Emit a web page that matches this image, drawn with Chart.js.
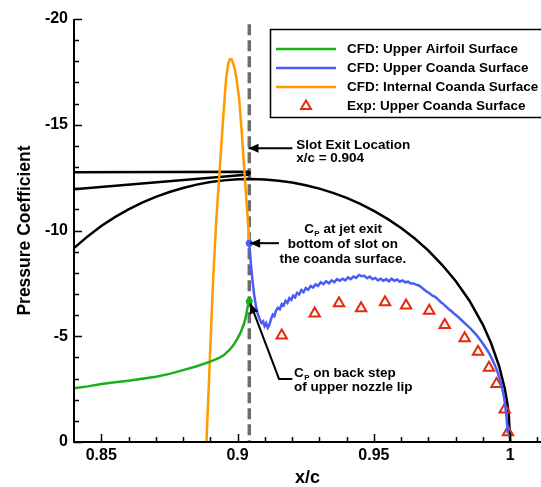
<!DOCTYPE html>
<html>
<head>
<meta charset="utf-8">
<script src="https://cdn.jsdelivr.net/npm/chart.js@4.4.1/dist/chart.umd.min.js"></script>
<style>
  html, body { margin: 0; padding: 0; background: #fff; }
</style>
</head>
<body>
<canvas id="myChart" width="541" height="487"></canvas>
<script>
// tick labels
var xTicks = [0.85, 0.9, 0.95, 1];
var yTicks = [-20, -15, -10, -5, 0];

var seriesLabels = ['CFD: Upper Airfoil Surface', 'CFD: Upper Coanda Surface', 'CFD: Internal Coanda Surface', 'Exp: Upper Coanda Surface'];

// CFD upper airfoil surface (green)
var airfoilX  = [0.840, 0.845, 0.850, 0.855, 0.860, 0.865, 0.870, 0.875, 0.880, 0.885, 0.890, 0.893, 0.895, 0.897, 0.8985, 0.900, 0.9012, 0.9024, 0.9031, 0.9037, 0.9043];
var airfoilCp = [-2.54, -2.63, -2.74, -2.82, -2.90, -2.99, -3.09, -3.22, -3.40, -3.58, -3.80, -3.96, -4.11, -4.35, -4.58, -4.90, -5.20, -5.60, -5.95, -6.40, -6.65];

// CFD upper coanda surface (blue)
var coandaX = [0.9043, 0.9049, 0.9055, 0.9061, 0.9067, 0.9074, 0.9081, 0.9088, 0.9094, 0.9099,
  0.9105, 0.9111, 0.9117, 0.9123, 0.9129, 0.9135, 0.9141, 0.9148, 0.9155, 0.9162,
  0.9169, 0.9176, 0.9183, 0.9190, 0.9197, 0.9204, 0.9211, 0.9218, 0.9226, 0.9234,
  0.9242, 0.9250, 0.9259, 0.9268, 0.9277, 0.9286, 0.9295, 0.9305, 0.9315, 0.9325,
  0.9335, 0.9345, 0.9355, 0.9365, 0.9375, 0.9385, 0.9395, 0.9405, 0.9415, 0.9425,
  0.9435, 0.9445, 0.9455, 0.9465, 0.9475, 0.9485, 0.9495, 0.9505, 0.9515, 0.9525,
  0.9535, 0.9545, 0.9555, 0.9565, 0.9575, 0.9585, 0.9595, 0.9605, 0.9615, 0.9625,
  0.9635, 0.9645, 0.9655, 0.9665, 0.9675, 0.9685, 0.9695, 0.9705, 0.9715, 0.9725,
  0.9735, 0.9745, 0.9755, 0.9765, 0.9775, 0.9785, 0.9795, 0.9805, 0.9815, 0.9825,
  0.9835, 0.9845, 0.9855, 0.9865, 0.9875, 0.9885, 0.9895, 0.9905, 0.9915, 0.9925,
  0.9935, 0.9945, 0.9955, 0.9963, 0.9970, 0.9977, 0.9982, 0.9986, 0.9989, 0.9991];
var coandaCp = [-9.40, -8.40, -7.60, -6.95, -6.45, -6.05, -5.80, -5.62, -5.70, -5.48,
  -5.62, -5.40, -5.55, -5.82, -6.02, -5.95, -6.22, -6.35, -6.28, -6.52,
  -6.45, -6.68, -6.58, -6.80, -6.72, -6.92, -6.84, -7.05, -6.98, -7.18,
  -7.08, -7.28, -7.20, -7.38, -7.30, -7.45, -7.38, -7.55, -7.46, -7.60,
  -7.50, -7.64, -7.56, -7.70, -7.62, -7.72, -7.64, -7.78, -7.70, -7.82,
  -7.76, -7.90, -7.84, -7.86, -7.74, -7.82, -7.70, -7.76, -7.64, -7.72,
  -7.62, -7.70, -7.60, -7.72, -7.62, -7.68, -7.58, -7.64, -7.55, -7.58,
  -7.50, -7.50, -7.44, -7.40, -7.30, -7.20, -7.10, -7.02, -6.92, -6.86,
  -6.74, -6.62, -6.52, -6.40, -6.28, -6.18, -6.06, -5.96, -5.84, -5.72,
  -5.60, -5.48, -5.36, -5.22, -5.08, -4.92, -4.74, -4.55, -4.36, -4.14,
  -3.88, -3.60, -3.26, -2.92, -2.55, -2.15, -1.70, -1.25, -0.80, -0.40];

// CFD internal coanda surface (orange)
var internalX  = [0.8886, 0.8898, 0.8910, 0.8922, 0.8934, 0.8946, 0.8958, 0.8966, 0.8972, 0.8978, 0.8984, 0.8990, 0.8996, 0.9006, 0.9015, 0.9024, 0.9033, 0.9040, 0.9043];
var internalCp = [0, -3.8, -7.6, -10.5, -12.8, -15.1, -17.2, -17.9, -18.1, -18.1, -17.9, -17.6, -17.2, -16.2, -14.7, -13.0, -11.3, -10.0, -9.4];

// experiment, upper coanda surface (red triangles)
var expX  = [0.9162, 0.9283, 0.9372, 0.9453, 0.9541, 0.9618, 0.9703, 0.9760, 0.9833, 0.9882, 0.9922, 0.9950, 0.9980, 0.9992];
var expCp = [-5.03, -6.08, -6.56, -6.32, -6.61, -6.45, -6.20, -5.53, -4.90, -4.27, -3.51, -2.74, -1.54, -0.46];

// airfoil / coanda outline (black)
var contourX = [0.840, 0.845, 0.850, 0.855, 0.860, 0.865, 0.870, 0.875, 0.880, 0.885, 0.890, 0.895, 0.900, 0.905,
  0.910, 0.915, 0.920, 0.925, 0.930, 0.935, 0.940, 0.945, 0.950, 0.955, 0.960, 0.965, 0.970, 0.975,
  0.980, 0.985, 0.990, 0.993, 0.996, 0.998, 0.999, 0.9995, 1.000];
var contourY = [-9.17, -9.72, -10.21, -10.63, -11.00, -11.32, -11.59, -11.82, -12.01, -12.17, -12.29, -12.37, -12.42, -12.43,
  -12.41, -12.35, -12.27, -12.14, -11.98, -11.78, -11.54, -11.26, -10.93, -10.55, -10.12, -9.62, -9.05, -8.38,
  -7.61, -6.69, -5.54, -4.67, -3.56, -2.53, -1.79, -1.27, 0];

// upper nozzle lip (black wedge)
var lipX = [0.840, 0.9041, 0.9045, 0.9041, 0.840];
var lipY = [-12.76, -12.78, -12.72, -12.65, -11.95];

// slot exit location (dashed)
var slotX = [0.9043, 0.9043];
var slotY = [-19.75, 0];

function pts(xs, ys) {
  return xs.map(function(x, i) { return { x: x, y: ys[i] }; });
}

var FONT = '"Liberation Sans", Arial, Helvetica, sans-serif';
var green = '#17b117', blue = '#4a5cf5', orange = '#ff9a00', red = '#e4290d';

// annotations (data units)
var notes = {
  slot: { from: [0.9201, -13.89], to: [0.9040, -13.89], textX: 0.9215, lines: [-13.85, -13.24] },
  jet: { from: [0.9152, -9.40], to: [0.9046, -9.40], textX: 0.9386, lines: [-9.88, -9.17, -8.46] },
  back: { path: [[0.9201, -2.98], [0.9152, -2.98], [0.9047, -6.55]], textX: 0.9207, lines: [-3.07, -2.41] }
};

function arrow(ctx, pts) {
  ctx.beginPath();
  ctx.moveTo(pts[0][0], pts[0][1]);
  for (var i = 1; i < pts.length; i++) ctx.lineTo(pts[i][0], pts[i][1]);
  ctx.stroke();
  var a = pts[pts.length - 2], b = pts[pts.length - 1];
  var ang = Math.atan2(b[1] - a[1], b[0] - a[0]);
  var len = 10, hw = 4.5;
  ctx.beginPath();
  ctx.moveTo(b[0], b[1]);
  ctx.lineTo(b[0] - len * Math.cos(ang) + hw * Math.sin(ang), b[1] - len * Math.sin(ang) - hw * Math.cos(ang));
  ctx.lineTo(b[0] - len * Math.cos(ang) - hw * Math.sin(ang), b[1] - len * Math.sin(ang) + hw * Math.cos(ang));
  ctx.closePath();
  ctx.fill();
}

function cpText(ctx, rest, x, y, center) {
  var big = 'bold 13.5px ' + FONT, small = 'bold 8px ' + FONT;
  ctx.font = big;
  var wC = ctx.measureText('C').width, wR = ctx.measureText(rest).width;
  ctx.font = small;
  var wP = ctx.measureText('P').width;
  var x0 = center ? x - (wC + wP + wR) / 2 : x;
  ctx.textAlign = 'left';
  ctx.font = big; ctx.fillText('C', x0, y);
  ctx.font = small; ctx.fillText('P', x0 + wC + 0.5, y + 3);
  ctx.font = big; ctx.fillText(rest, x0 + wC + wP + 0.5, y);
}

var decor = {
  id: 'decor',
  afterDraw: function(chart) {
    var ctx = chart.ctx, xs = chart.scales.x, ys = chart.scales.y, area = chart.chartArea;
    function P(p) { return [xs.getPixelForValue(p[0]), ys.getPixelForValue(p[1])]; }
    ctx.save();

    // axes
    ctx.strokeStyle = '#000';
    ctx.lineWidth = 2;
    ctx.beginPath();
    ctx.moveTo(area.left, area.top);
    ctx.lineTo(area.left, area.bottom);
    ctx.lineTo(area.right, area.bottom);
    ctx.stroke();

    // inward ticks
    ctx.lineWidth = 1.5;
    ctx.beginPath();
    for (var i = 85; i <= 101; i++) {
      var px = Math.round(xs.getPixelForValue(i / 100)) + 0.5;
      var l = (i % 5 === 0) ? 8 : 5;
      ctx.moveTo(px, area.bottom); ctx.lineTo(px, area.bottom - l);
    }
    for (var j = -20; j <= 0; j++) {
      var py = Math.round(ys.getPixelForValue(j)) + 0.5;
      var l2 = (j % 5 === 0) ? 8 : 5;
      ctx.moveTo(area.left, py); ctx.lineTo(area.left + l2, py);
    }
    ctx.stroke();

    // axis titles
    ctx.fillStyle = '#000';
    ctx.textAlign = 'center';
    ctx.textBaseline = 'middle';
    ctx.font = 'bold 18px ' + FONT;
    ctx.fillText('x/c', (area.left + area.right) / 2, 478);
    ctx.save();
    ctx.translate(25, (area.top + area.bottom) / 2);
    ctx.rotate(-Math.PI / 2);
    ctx.font = 'bold 17.5px ' + FONT;
    ctx.fillText('Pressure Coefficient', 0, 0);
    ctx.restore();

    // legend
    ctx.fillStyle = '#fff';
    ctx.fillRect(270, 29, 280, 88);
    ctx.strokeStyle = '#000';
    ctx.lineWidth = 1.5;
    ctx.strokeRect(270.5, 29.5, 280, 88);
    var rows = [49, 68, 87, 106];
    var cols = [green, blue, orange];
    ctx.lineWidth = 2.5;
    for (var r = 0; r < 3; r++) {
      ctx.strokeStyle = cols[r];
      ctx.beginPath(); ctx.moveTo(276, rows[r]); ctx.lineTo(336, rows[r]); ctx.stroke();
    }
    ctx.strokeStyle = red; ctx.lineWidth = 2;
    ctx.beginPath();
    ctx.moveTo(306, rows[3] - 5.5); ctx.lineTo(311, rows[3] + 3); ctx.lineTo(301, rows[3] + 3); ctx.closePath();
    ctx.stroke();
    ctx.fillStyle = '#000';
    ctx.textAlign = 'left';
    ctx.textBaseline = 'middle';
    ctx.font = 'bold 13.5px ' + FONT;
    for (var k = 0; k < 4; k++) ctx.fillText(seriesLabels[k], 347, rows[k] + 0.5);

    // annotations
    ctx.textBaseline = 'alphabetic';
    ctx.strokeStyle = '#000';
    ctx.fillStyle = '#000';
    ctx.lineWidth = 2;
    arrow(ctx, [P(notes.slot.from), P(notes.slot.to)]);
    arrow(ctx, [P(notes.jet.from), P(notes.jet.to)]);
    arrow(ctx, notes.back.path.map(P));

    ctx.font = 'bold 13.5px ' + FONT;
    var sx = xs.getPixelForValue(notes.slot.textX);
    ctx.fillText('Slot Exit Location', sx, ys.getPixelForValue(notes.slot.lines[0]));
    ctx.fillText('x/c = 0.904', sx, ys.getPixelForValue(notes.slot.lines[1]));

    var jx = xs.getPixelForValue(notes.jet.textX);
    cpText(ctx, ' at jet exit', jx, ys.getPixelForValue(notes.jet.lines[0]), true);
    ctx.font = 'bold 13.5px ' + FONT;
    ctx.textAlign = 'center';
    ctx.fillText('bottom of slot on', jx, ys.getPixelForValue(notes.jet.lines[1]));
    ctx.fillText('the coanda surface.', jx, ys.getPixelForValue(notes.jet.lines[2]));

    var bx = xs.getPixelForValue(notes.back.textX);
    cpText(ctx, ' on back step', bx, ys.getPixelForValue(notes.back.lines[0]), false);
    ctx.font = 'bold 13.5px ' + FONT;
    ctx.textAlign = 'left';
    ctx.fillText('of upper nozzle lip', bx, ys.getPixelForValue(notes.back.lines[1]));

    ctx.restore();
  }
};

var ctx = document.getElementById('myChart').getContext('2d');
var chart = new Chart(ctx, {
  type: 'scatter',
  data: {
    datasets: [
      {
        label: seriesLabels[1],
        data: pts(coandaX, coandaCp),
        showLine: true,
        borderColor: blue,
        backgroundColor: blue,
        borderWidth: 2.5,
        pointRadius: function(c) { return c.dataIndex === 0 ? 3.5 : 0; },
        pointBorderWidth: 0,
        order: 0
      },
      {
        label: seriesLabels[3],
        data: pts(expX, expCp),
        showLine: false,
        pointStyle: 'triangle',
        pointRadius: 6,
        pointBorderWidth: 2,
        borderColor: red,
        backgroundColor: 'rgba(0,0,0,0)',
        order: 0
      },
      {
        label: seriesLabels[0],
        data: pts(airfoilX, airfoilCp),
        showLine: true,
        borderColor: green,
        backgroundColor: green,
        borderWidth: 2.5,
        pointRadius: function(c) { return c.dataIndex === airfoilX.length - 1 ? 3.5 : 0; },
        pointBorderWidth: 0,
        order: 1
      },
      {
        label: seriesLabels[2],
        data: pts(internalX, internalCp),
        showLine: true,
        borderColor: orange,
        borderWidth: 2.5,
        pointRadius: 0,
        order: 2
      },
      {
        label: 'contour',
        data: pts(contourX, contourY),
        showLine: true,
        borderColor: '#000',
        borderWidth: 2.5,
        pointRadius: 0,
        order: 3
      },
      {
        label: 'lip',
        data: pts(lipX, lipY),
        showLine: true,
        borderColor: '#000',
        borderWidth: 2.5,
        borderJoinStyle: 'round',
        pointRadius: 0,
        order: 3
      },
      {
        label: 'slot',
        data: pts(slotX, slotY),
        showLine: true,
        borderColor: '#6b6b6b',
        borderWidth: 3.5,
        borderDash: [11, 5],
        pointRadius: 0,
        order: 4
      }
    ]
  },
  options: {
    responsive: false,
    animation: false,
    devicePixelRatio: 1,
    layout: { autoPadding: false, padding: { top: 19, right: 0, bottom: 0, left: 0 } },
    plugins: { legend: { display: false }, tooltip: { enabled: false } },
    scales: {
      x: {
        type: 'linear',
        min: 0.84,
        max: 1.0113,
        afterBuildTicks: function(s) { s.ticks = xTicks.map(function(v) { return { value: v }; }); },
        afterFit: function(s) { s.height = 45; },
        ticks: {
          callback: function(v) { return String(v); },
          font: { family: FONT, size: 16, weight: 'bold' },
          color: '#000',
          padding: 4,
          maxRotation: 0,
          autoSkip: false
        },
        grid: { display: false, drawTicks: false },
        border: { display: false }
      },
      y: {
        type: 'linear',
        min: -20,
        max: 0,
        reverse: true,
        afterBuildTicks: function(s) { s.ticks = yTicks.map(function(v) { return { value: v }; }); },
        afterFit: function(s) { s.width = 74; },
        ticks: {
          callback: function(v) { return String(v); },
          font: { family: FONT, size: 16, weight: 'bold' },
          color: '#000',
          padding: 6
        },
        grid: { display: false, drawTicks: false },
        border: { display: false }
      }
    }
  },
  plugins: [decor]
});
</script>
</body>
</html>
